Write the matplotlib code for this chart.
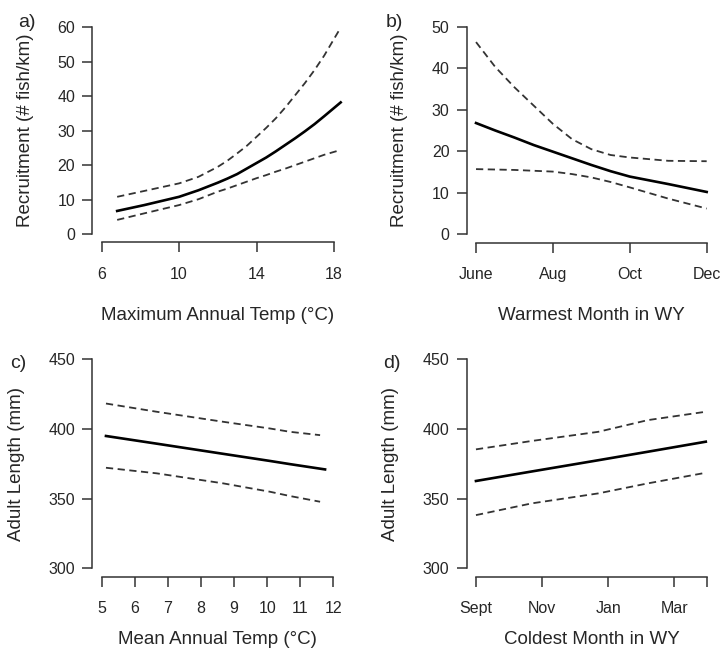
import matplotlib
matplotlib.use("Agg")
import matplotlib.pyplot as plt

plt.rcParams['font.family'] = ['Liberation Sans', 'DejaVu Sans']

# ---- a) recruitment vs max annual temp
a_x = [6.8, 8.2, 10, 11, 12, 12.5, 13, 13.5, 14, 14.5, 15, 15.5, 16, 16.5, 17, 17.5, 18.35]
a_fit = [6.7, 8.4, 10.8, 12.7, 14.9, 16.1, 17.4, 19.0, 20.6, 22.2, 24.0, 25.9, 27.8, 29.8,
         31.9, 34.2, 38.2]
a_hi = [10.8, 12.5, 14.7, 16.6, 19.5, 21.3, 23.4, 25.6, 28.2, 30.8, 33.6, 36.8, 40.3, 43.8,
        47.6, 51.8, 59.9]
a_lo = [4.1, 6.0, 8.4, 10.1, 12.3, 13.2, 14.2, 15.2, 16.2, 17.1, 18.1, 19.0, 20.0, 21.0,
        22.0, 23.0, 24.4]

# ---- b) recruitment vs warmest month (6=June ... 12=Dec)
b_x = [6, 6.5, 7, 7.5, 8, 8.5, 9, 9.5, 10, 11, 12]
b_fit = [26.8, 25.0, 23.3, 21.5, 19.9, 18.3, 16.7, 15.2, 13.9, 12.1, 10.2]
b_hi = [46.3, 40.3, 35.4, 31.0, 26.6, 22.9, 20.5, 19.1, 18.5, 17.7, 17.6]
b_lo = [15.7, 15.6, 15.5, 15.3, 15.1, 14.5, 13.7, 12.6, 11.3, 8.6, 6.2]
b_ticks = [6, 8, 10, 12]
b_labels = ["June", "Aug", "Oct", "Dec"]

# ---- c) adult length vs mean annual temp
c_x = [5.13, 6.66, 8.67, 10.08, 10.69, 11.75]
c_fit = [395.0, 389.5, 382.2, 377.1, 374.8, 371.0]
c_xci = [5.13, 6.66, 8.67, 10.08, 10.69, 11.6]
c_hi = [418.3, 412.4, 405.2, 400.4, 398.0, 395.6]
c_lo = [372.2, 368.2, 361.0, 355.0, 351.9, 347.8]

# ---- d) adult length vs coldest month (9=Sept ... 16=Apr)
d_x = [9.0, 10.68, 12.7, 14.2, 15.95]
d_fit = [362.7, 369.5, 377.6, 383.7, 390.9]
d_hi = [385.4, 391.4, 398.0, 406.4, 412.4]
d_lo = [338.2, 346.6, 353.8, 361.0, 368.6]
d_ticks = [9, 11, 13, 15, 16]
d_labels = ["Sept", "Nov", "Jan", "Mar", ""]

W, H = 720, 650
fig = plt.figure(figsize=(7.2, 6.5), dpi=100)

txt = '#262626'
axcol = '#333333'


def make_ax(l, r, t, b):
    # pixel box -> figure fraction
    return fig.add_axes([l / W, 1 - b / H, (r - l) / W, (b - t) / H])


def r_style(ax, xlim, ylim, xb, yb, xlab, ylab, xpad):
    ax.set_xlim(*xlim)
    ax.set_ylim(*ylim)
    for s in ['top', 'right']:
        ax.spines[s].set_visible(False)
    for s in ['left', 'bottom']:
        ax.spines[s].set_color(axcol)
        ax.spines[s].set_linewidth(1.1)
    ax.spines['left'].set_bounds(*yb)
    ax.spines['bottom'].set_bounds(*xb)
    ax.tick_params(axis='both', length=7.5, width=1.1, color=axcol,
                   labelsize=11.5, labelcolor=txt)
    ax.tick_params(axis='x', pad=10)
    ax.tick_params(axis='y', pad=5)
    ax.set_xlabel(xlab, fontsize=13.5, color=txt, labelpad=xpad)
    ax.set_ylabel(ylab, fontsize=13.5, color=txt, labelpad=17)


def draw(ax, x, fit, xci, hi, lo):
    ax.plot(xci, hi, color='#333333', lw=1.3, ls=(0, (4, 2.5)))
    ax.plot(xci, lo, color='#333333', lw=1.3, ls=(0, (4, 2.5)))
    ax.plot(x, fit, color='black', lw=1.9)


# a)
ax1 = make_ax(92.4, 343.2, 19.0, 242.3)
draw(ax1, a_x, a_fit, a_x, a_hi, a_lo)
r_style(ax1, (5.52, 18.48), (-2.4, 62.4), (6, 18), (0, 60),
        "Maximum Annual Temp (°C)", "Recruitment (# fish/km)", 18)
ax1.set_xticks([6, 10, 14, 18])
ax1.set_yticks(range(0, 61, 10))

# b)
ax2 = make_ax(466.8, 715.9, 18.4, 242.6)
draw(ax2, b_x, b_fit, b_x, b_hi, b_lo)
r_style(ax2, (5.76, 12.24), (-2, 52), (6, 12), (0, 50),
        "Warmest Month in WY", "Recruitment (# fish/km)", 18)
ax2.set_xticks(b_ticks)
ax2.set_xticklabels(b_labels)
ax2.set_yticks(range(0, 51, 10))

# c)
ax3 = make_ax(92.4, 342.6, 351.0, 576.7)
draw(ax3, c_x, c_fit, c_xci, c_hi, c_lo)
r_style(ax3, (4.72, 12.28), (294, 456), (5, 12), (300, 450),
        "Mean Annual Temp (°C)", "Adult Length (mm)", 11)
ax3.set_xticks(range(5, 13))
ax3.set_yticks([300, 350, 400, 450])

# d)
ax4 = make_ax(466.7, 716.7, 351.0, 576.7)
draw(ax4, d_x, d_fit, d_x, d_hi, d_lo)
r_style(ax4, (8.72, 16.28), (294, 456), (9, 16), (300, 450),
        "Coldest Month in WY", "Adult Length (mm)", 11)
ax4.set_xticks(d_ticks)
ax4.set_xticklabels(d_labels)
ax4.set_yticks([300, 350, 400, 450])

# panel letters
for lab, px, py in [("a)", 18, 27), ("b)", 386, 27), ("c)", 10, 368), ("d)", 383, 368)]:
    fig.text(px / W, 1 - py / H, lab, fontsize=14, color=txt, va='baseline')

fig.savefig("out.png", dpi=100)
